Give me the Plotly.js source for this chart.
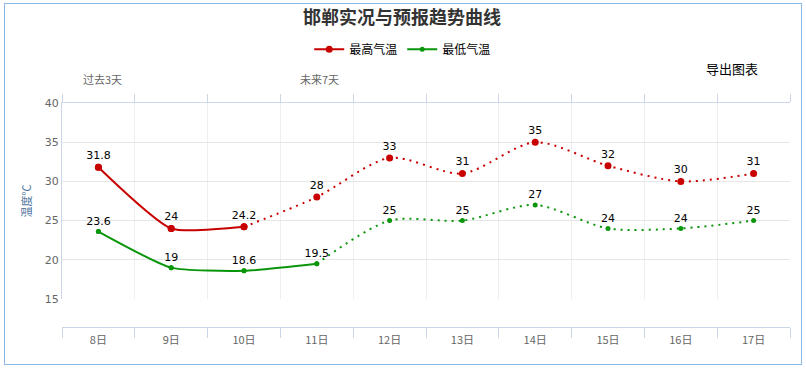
<!DOCTYPE html>
<html>
<head>
<meta charset="utf-8">
<script src="https://cdn.plot.ly/plotly-3.0.1.min.js"></script>
<style>
html,body{margin:0;padding:0;background:#fff;}
#wrap{position:relative;width:806px;height:369px;}
#chart{width:806px;height:369px;}
#border{position:absolute;left:4px;top:3px;width:796px;height:360px;border:1px solid #8ab8e8;pointer-events:none;}
</style>
</head>
<body>
<div id="wrap"><div id="chart"></div><div id="border"></div></div>
<script>
const days = ["8日","9日","10日","11日","12日","13日","14日","15日","16日","17日"];
const highTemps = [31.8, 24, 24.2, 28, 33, 31, 35, 32, 30, 31];
const lowTemps = [23.6, 19, 18.6, 19.5, 25, 25, 27, 24, 24, 25];
const highObservedCount = 3; // 8日-10日 solid
const lowObservedCount = 4;  // 8日-11日 solid
const titleText = "邯郸实况与预报趋势曲线";
const highName = "最高气温";
const lowName = "最低气温";
const yTitle = "温度℃";
const pastLabel = "过去3天";
const futureLabel = "未来7天";
const exportLabel = "导出图表";

const RED = "#c80000";
const GREEN = "#0a960a";
const FONT = "'Microsoft YaHei','Noto Sans CJK SC','DejaVu Sans',sans-serif";
const NUMFONT = "'DejaVu Sans','Noto Sans CJK SC',sans-serif";

function seriesTraces(vals, n, color, name, msize){
  const solid = {
    x: days.slice(0, n), y: vals.slice(0, n), name: name, type: "scatter",
    mode: "lines+markers", line: {color: color, width: 2, shape: "spline", smoothing: 0.55},
    marker: {color: color, size: msize, symbol: "circle"},
    hoverinfo: "skip", showlegend: true, xaxis: "x", yaxis: "y"
  };
  const dotted = {
    x: days.slice(n - 1), y: vals.slice(n - 1), name: name, type: "scatter",
    mode: "lines", line: {color: color, width: 2, shape: "spline", smoothing: 0.8, dash: "2px,5px"},
    hoverinfo: "skip", showlegend: false, xaxis: "x", yaxis: "y"
  };
  const pts = {
    x: days, y: vals, type: "scatter", mode: "markers+text",
    text: vals.map(v => String(v)), textposition: "top center",
    textfont: {family: NUMFONT, size: 11, color: "#000"},
    marker: {color: color, size: msize, symbol: "circle"},
    hoverinfo: "skip", showlegend: false, xaxis: "x", yaxis: "y"
  };
  return [solid, dotted, pts];
}

const traces = [
  ...seriesTraces(highTemps, highObservedCount, RED, highName, 7),
  ...seriesTraces(lowTemps, lowObservedCount, GREEN, lowName, 5),
  {x: days, y: lowTemps, type: "scatter", mode: "markers", marker: {opacity: 0},
   hoverinfo: "skip", showlegend: false, xaxis: "x2", yaxis: "y"}
];

const layout = {
  width: 806, height: 369,
  margin: {l: 62, r: 16, t: 103, b: 42},
  paper_bgcolor: "#fff", plot_bgcolor: "#fff",
  font: {family: FONT, size: 11, color: "#666"},
  title: {text: "<b>" + titleText + "</b>", x: 402 / 806, xref: "container", xanchor: "center",
          y: 1 - 18 / 369, yref: "container", yanchor: "middle",
          font: {family: FONT, size: 18, color: "#333"}},
  showlegend: true,
  legend: {orientation: "h", x: 0.468, xanchor: "center", y: 1.24, yanchor: "middle",
           font: {family: FONT, size: 12, color: "#000"}, itemwidth: 30, traceorder: "normal"},
  xaxis: {
    type: "category", categoryorder: "array", categoryarray: days, range: [-0.5, 9.5],
    side: "top", anchor: "y", showline: true, linecolor: "#ccd6eb", linewidth: 1,
    ticks: "outside", ticklen: 8, tickcolor: "#ccd6eb", tickson: "boundaries",
    showticklabels: false, showgrid: true, gridcolor: "#eeeeee", zeroline: false
  },
  xaxis2: {
    type: "category", categoryorder: "array", categoryarray: days, range: [-0.5, 9.5],
    overlaying: "x", anchor: "free", position: 0, side: "bottom",
    showline: true, linecolor: "#ccd6eb", linewidth: 1,
    ticks: "outside", ticklen: 10, tickcolor: "#ccd6eb", tickson: "boundaries",
    showgrid: false, zeroline: false, ticklabelstandoff: 3,
    tickfont: {family: FONT, size: 11, color: "#666"}
  },
  yaxis: {
    domain: [0.125, 1], range: [15, 40], dtick: 5, tick0: 15,
    showline: true, linecolor: "#ccd6eb", linewidth: 1, ticks: "",
    showgrid: true, gridcolor: "#e6e6e6", zeroline: false,
    tickfont: {family: NUMFONT, size: 11, color: "#666"},
    title: {text: yTitle, standoff: 10, font: {family: FONT, size: 11, color: "#4d759e"}}
  },
  annotations: [
    {text: pastLabel, xref: "x", x: 0, xshift: 4, yref: "paper", y: 1.105, yanchor: "middle",
     showarrow: false, font: {family: FONT, size: 11, color: "#666"}},
    {text: futureLabel, xref: "x", x: 3, xshift: 3, yref: "paper", y: 1.105, yanchor: "middle",
     showarrow: false, font: {family: FONT, size: 11, color: "#666"}},
    {text: exportLabel, xref: "paper", x: (732 - 62) / 728, xanchor: "center",
     yref: "paper", y: (327 - 68) / 224, yanchor: "middle",
     showarrow: false, font: {family: FONT, size: 13, color: "#000"}}
  ]
};

Plotly.newPlot("chart", traces, layout, {displayModeBar: false, staticPlot: true});
</script>
</body>
</html>
